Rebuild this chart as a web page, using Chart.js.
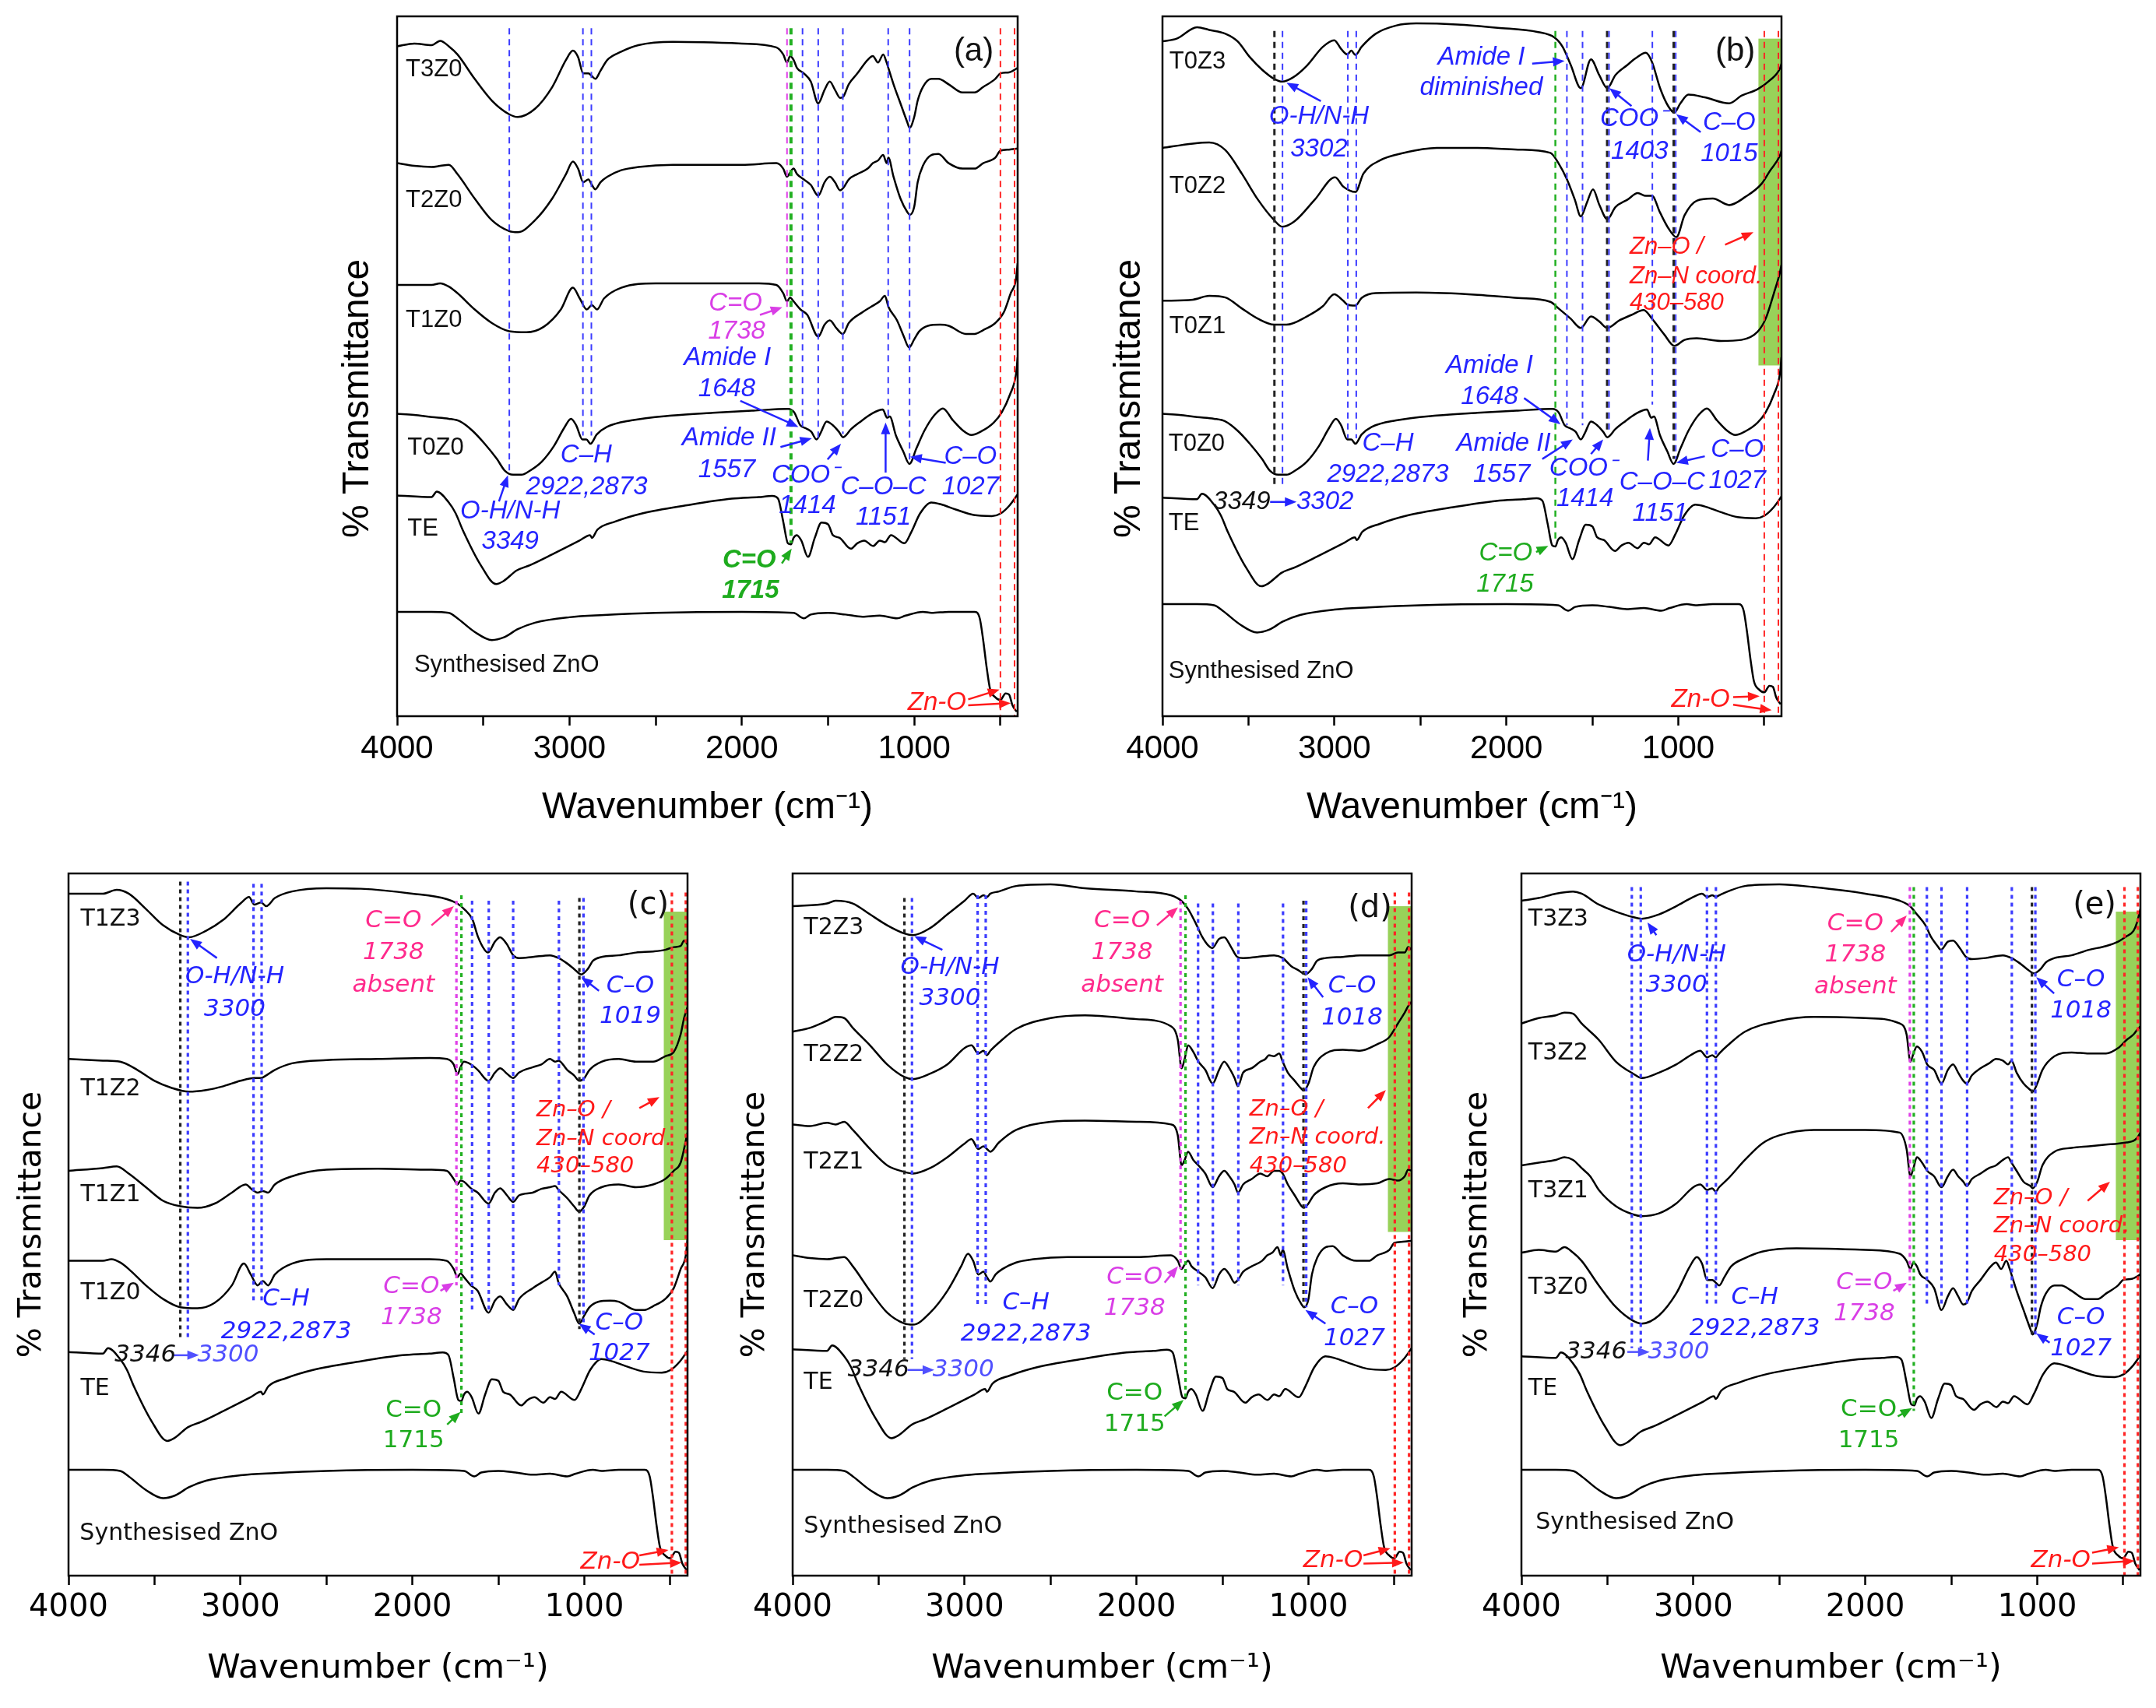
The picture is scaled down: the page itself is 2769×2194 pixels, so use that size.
<!DOCTYPE html>
<html>
<head>
<meta charset="utf-8">
<script src="https://cdn.jsdelivr.net/npm/chart.js@4.4.1/dist/chart.umd.min.js"></script>
<style>
  body { margin: 0; background: #fff; width: 2769px; height: 2194px; position: relative; overflow: hidden; }
  canvas { position: absolute; }
</style>
</head>
<body>
<canvas id="ca"></canvas>
<canvas id="cb"></canvas>
<canvas id="cc"></canvas>
<canvas id="cd"></canvas>
<canvas id="ce"></canvas>
<script>
// ---- spectra (x = wavenumber cm-1, t = stacked transmittance, arbitrary units) ----
const wnTE = [4000,3800,3770,3700,3660,3620,3515,3425,3385,3306,3228,3098,2942,2880,2870,2838,2734,2578,2318,2058,1902,1824,1790,1760,1733,1715,1700,1681,1655,1616,1577,1538,1500,1472,1433,1368,1330,1290,1238,1200,1170,1135,1057,1018,966,901,849,759,655,550,498,446,400];
const tTE  = [410,407,417,397,377,347,282,247,252,272,282,302,327,337,332,347,362,377,392,404,407,409,404,362,322,320,332,337,327,297,332,360,357,337,332,312,322,327,317,327,324,337,322,342,377,397,394,384,374,372,377,392,412];

const wnZnO = [4000,3800,3700,3650,3550,3450,3380,3300,3200,3000,2800,2500,2000,1700,1640,1600,1500,1400,1300,1200,1100,1050,950,900,800,650,620,600,580,560,530,500,470,450,430,405];
const tZnO  = [194,194,192,182,157,142,147,162,174,184,188,192,194,192,182,189,192,189,185,187,182,187,194,192,194,194,182,142,92,52,37,32,44,42,22,10];

const wnT0Z0 = [4000,3901,3799,3700,3634,3563,3492,3421,3374,3327,3279,3232,3161,3090,3031,2991,2961,2925,2902,2878,2842,2783,2642,2405,2169,1933,1732,1697,1661,1626,1597,1567,1543,1508,1472,1437,1413,1366,1319,1248,1182,1158,1142,1106,1064,1028,988,941,882,834,775,716,669,610,539,492,444,409,400];
const tT0Z0  = [556,554,550,547,542,525,501,473,451,444,444,451,468,497,530,547,535,509,509,501,518,532,544,553,558,562,565,559,535,529,523,509,521,542,535,523,513,528,540,556,564,549,551,516,487,464,492,525,554,566,544,525,517,524,540,559,592,630,660];

const wnT0Z1 = [4000,3823,3728,3634,3539,3445,3350,3279,3161,3067,3001,2949,2925,2878,2842,2760,2524,2169,1933,1744,1697,1626,1567,1508,1460,1413,1342,1272,1201,1153,1082,1023,964,893,752,633,539,492,444,409,400];
const tT0Z1  = [764,766,773,770,750,731,720,720,735,754,776,764,757,755,769,778,779,775,769,762,750,731,714,735,726,714,728,738,747,731,702,681,692,695,690,692,707,731,778,816,830];

const wnT0Z2 = [4000,3823,3728,3634,3539,3445,3350,3303,3232,3114,2996,2949,2913,2878,2831,2736,2594,2405,2169,1933,1744,1697,1649,1602,1567,1531,1496,1460,1413,1366,1295,1236,1189,1153,1106,1059,1011,964,893,799,704,610,516,469,409,400];
const tT0Z2  = [1045,1053,1055,1041,998,950,912,900,910,950,991,974,967,964,998,1022,1036,1045,1045,1042,1036,1017,988,950,919,945,969,941,914,936,950,962,957,957,926,898,881,921,948,952,940,955,979,1002,1031,1040];

const wnT0Z3 = [4000,3917,3799,3728,3634,3563,3492,3421,3350,3303,3244,3161,3067,3001,2961,2925,2902,2878,2842,2760,2642,2524,2287,2051,1815,1720,1673,1626,1567,1508,1460,1413,1366,1295,1248,1189,1153,1106,1059,1023,988,941,846,704,633,539,469,409,400];
const tT0Z3  = [1241,1246,1267,1262,1255,1241,1212,1189,1172,1167,1174,1196,1231,1243,1227,1217,1224,1216,1231,1255,1270,1274,1272,1266,1258,1248,1231,1198,1155,1208,1179,1155,1179,1198,1210,1220,1203,1155,1122,1110,1127,1143,1138,1127,1141,1153,1169,1191,1200];

const wnT1Z0 = [4000,3800,3750,3700,3650,3550,3450,3350,3250,3150,3050,2980,2940,2900,2870,2840,2800,2700,2500,2200,1900,1800,1760,1738,1720,1700,1660,1620,1557,1520,1490,1450,1414,1380,1300,1250,1200,1170,1150,1100,1060,1030,1000,970,920,850,800,700,650,600,530,480,440,410,400];
const tT1Z0  = [577,577,580,574,562,532,507,492,490,500,532,572,552,532,540,532,552,572,580,580,580,577,562,547,554,547,532,522,482,504,512,497,487,507,527,537,547,557,537,512,482,462,477,492,502,504,502,487,487,494,507,527,562,587,617];

const wnT1Z1 = [4000,3800,3720,3650,3550,3450,3350,3250,3150,3050,2970,2930,2900,2870,2840,2800,2700,2500,2200,1900,1800,1760,1738,1720,1700,1660,1620,1557,1520,1490,1450,1414,1380,1300,1250,1200,1170,1150,1100,1060,1030,1000,970,900,800,700,600,530,480,440,400];
const tT1Z1  = [742,747,750,737,712,687,677,674,682,702,717,707,702,705,702,717,732,744,746,744,742,727,717,724,722,710,702,682,702,710,697,685,697,702,709,712,714,707,692,677,667,677,697,712,717,712,717,727,742,757,812];

const wnT1Z2 = [4000,3800,3700,3600,3500,3400,3300,3200,3100,3000,2920,2880,2850,2800,2700,2500,2200,1900,1800,1760,1738,1720,1700,1660,1620,1557,1520,1490,1450,1414,1380,1300,1250,1200,1170,1150,1100,1060,1030,1000,970,900,800,700,600,530,480,440,420,400];
const tT1Z2  = [947,944,942,927,907,894,887,890,897,907,912,912,917,927,939,945,947,949,947,937,919,932,942,937,927,907,922,930,920,912,922,932,937,947,942,944,927,917,907,912,927,942,947,942,942,952,960,992,1022,1042];

const wnT1Z3 = [4000,3800,3720,3650,3550,3450,3350,3300,3200,3100,3000,2950,2920,2880,2850,2800,2700,2500,2300,2000,1800,1740,1700,1650,1620,1580,1560,1520,1490,1450,1414,1380,1300,1200,1150,1100,1060,1019,980,950,900,800,700,600,530,480,440,420,400];
const tT1Z3  = [1250,1250,1257,1250,1222,1192,1174,1170,1182,1202,1232,1244,1230,1234,1227,1242,1254,1260,1259,1250,1240,1232,1222,1202,1172,1147,1142,1162,1170,1157,1137,1132,1134,1137,1132,1122,1112,1102,1112,1127,1134,1137,1142,1144,1147,1152,1154,1164,1157];

const wnT2Z0 = [4000,3900,3800,3750,3700,3650,3550,3450,3350,3300,3200,3100,3020,2980,2950,2920,2890,2870,2850,2820,2780,2700,2600,2400,2000,1800,1760,1738,1720,1700,1680,1640,1600,1557,1520,1490,1460,1430,1410,1380,1330,1270,1240,1210,1180,1160,1150,1120,1080,1040,1025,1000,980,950,900,860,800,720,650,600,530,500,450,400];
const tT2Z0  = [587,582,580,582,584,567,522,482,462,460,482,522,567,590,577,552,557,547,539,552,562,574,580,584,584,587,577,562,570,577,567,557,547,527,552,562,552,537,542,557,567,577,587,592,602,587,597,562,522,497,492,507,552,582,602,604,587,577,577,587,597,610,612,614];

const wnT2Z1 = [4000,3900,3800,3750,3700,3650,3550,3450,3350,3300,3200,3100,3000,2960,2920,2890,2870,2850,2800,2700,2500,2300,2000,1800,1760,1738,1720,1700,1670,1640,1600,1557,1520,1490,1460,1430,1410,1380,1330,1280,1240,1200,1170,1150,1120,1080,1040,1027,1000,970,900,800,700,600,530,480,440,420,400];
const tT2Z1  = [827,824,830,827,832,817,782,752,740,737,747,767,792,800,782,787,782,777,794,817,832,834,832,827,807,752,762,777,762,752,737,712,732,742,732,717,702,717,727,737,732,742,742,737,717,697,677,674,682,697,712,719,717,719,727,724,732,744,742];

const wnT2Z2 = [4000,3900,3800,3750,3700,3650,3550,3450,3350,3300,3200,3100,3000,2960,2920,2890,2870,2850,2800,2700,2500,2300,2000,1800,1760,1738,1720,1700,1670,1640,1600,1557,1520,1490,1460,1430,1410,1380,1330,1280,1250,1230,1200,1170,1150,1120,1080,1040,1027,1000,970,900,800,700,600,530,480,440,420,400];
const tT2Z2  = [997,1004,1017,1024,1022,1004,972,937,914,910,920,937,967,972,957,962,954,962,977,1002,1022,1027,1020,1007,982,930,947,972,960,942,927,902,927,942,930,912,897,922,930,942,947,954,952,957,942,922,907,892,889,902,932,957,964,962,974,987,1012,1032,1044,1052];

const wnT2Z3 = [4000,3800,3750,3650,3550,3450,3350,3300,3200,3100,3000,2950,2920,2890,2870,2850,2800,2700,2500,2300,2000,1800,1740,1700,1650,1620,1580,1560,1520,1490,1450,1414,1380,1300,1200,1150,1100,1060,1018,980,950,900,800,700,600,530,480,440,420,400];
const tT2Z3  = [1227,1232,1237,1232,1212,1192,1177,1174,1187,1212,1237,1250,1242,1247,1244,1250,1254,1264,1267,1260,1254,1247,1237,1222,1192,1172,1154,1150,1167,1170,1152,1134,1132,1134,1137,1132,1117,1110,1102,1112,1127,1132,1134,1137,1137,1137,1142,1142,1152,1147];

const wnT3Z0 = [4000,3900,3800,3750,3700,3650,3550,3450,3350,3300,3200,3100,3020,2980,2950,2920,2890,2870,2850,2820,2780,2700,2600,2400,2000,1800,1760,1738,1720,1700,1680,1640,1600,1557,1520,1490,1460,1430,1410,1380,1330,1270,1240,1210,1180,1160,1150,1120,1080,1040,1027,1000,980,950,900,860,800,720,650,600,530,500,450,400];
const tT3Z0  = [592,597,594,602,592,577,532,492,467,462,477,517,567,584,572,542,542,537,532,547,567,582,594,600,597,590,577,562,574,567,552,542,527,487,512,527,512,497,500,522,542,567,574,562,577,562,552,522,487,452,442,462,492,517,532,532,522,507,507,517,532,542,544,552];

const wnT3Z1 = [4000,3900,3800,3750,3700,3650,3600,3550,3450,3350,3300,3200,3100,3000,2960,2920,2890,2870,2850,2800,2700,2600,2500,2300,2000,1800,1760,1738,1720,1700,1670,1640,1600,1557,1520,1490,1460,1430,1410,1380,1330,1280,1240,1200,1170,1150,1120,1080,1040,1027,1000,970,900,800,700,600,530,480,440,420,400];
const tT3Z1  = [752,757,762,767,762,747,732,707,677,662,659,664,682,712,717,707,710,704,712,727,762,792,807,817,817,812,782,732,747,767,757,742,732,712,732,744,732,722,714,727,737,747,752,762,767,757,742,722,714,710,722,752,777,784,787,790,792,794,797,802,812];

const wnT3Z2 = [4000,3900,3800,3750,3700,3650,3550,3450,3350,3300,3200,3100,3000,2960,2920,2890,2870,2850,2800,2700,2500,2300,2000,1800,1760,1738,1720,1700,1670,1640,1600,1557,1520,1490,1460,1430,1410,1380,1330,1280,1240,1200,1170,1150,1120,1080,1040,1027,1000,970,900,800,700,600,530,480,440,420,400];
const tT3Z2  = [1012,1022,1027,1032,1030,1012,982,942,920,912,922,937,957,962,950,954,950,957,972,997,1017,1024,1022,1012,992,942,957,970,960,937,927,902,927,937,922,907,902,917,930,939,947,944,937,944,922,902,890,887,902,927,952,959,957,957,967,982,992,1000,1007];

const wnT3Z3 = [4000,3900,3800,3700,3650,3550,3450,3350,3300,3200,3100,3000,2950,2920,2890,2870,2850,2800,2700,2500,2300,2000,1800,1740,1700,1650,1620,1580,1560,1520,1490,1450,1414,1380,1300,1200,1150,1100,1060,1018,980,950,900,800,700,600,530,480,440,420,400];
const tT3Z3  = [1237,1242,1250,1254,1250,1230,1217,1207,1204,1212,1227,1244,1250,1244,1247,1244,1247,1254,1264,1267,1262,1250,1237,1227,1212,1192,1172,1154,1147,1162,1164,1150,1134,1130,1132,1137,1132,1122,1112,1104,1112,1124,1132,1137,1147,1154,1162,1172,1182,1197,1222];

// x axis ticks (labels only on thousands)
const xTicks = [4000, 3500, 3000, 2500, 2000, 1500, 1000, 500];

// ---- styles ----
const LS = '"Liberation Sans", Arial, sans-serif';
const DV = '"DejaVu Sans", Verdana, sans-serif';
const COL = { B: '#2424ff', B2: '#5050ff', K: '#111111', M: '#d93ee6', P: '#ff2a8c', G: '#1eab1e', R: '#ff1a1a' };
const LINECOL = { b: '#3c3cff', k: '#222222', m: '#e040e8', g: '#22b022', r: '#ff2626' };
const BAND = 'rgba(146,208,80,0.95)';

const fontAB = { fam: LS, tick: 42, xt: 48, yt: 48, tr: 31, an: 33, let: 42, tickPad: 5, titlePadB: 13 };
const fontCE = { fam: DV, tick: 40, xt: 43, yt: 41, tr: 30, an: 31, let: 40, tickPad: 6, titlePadB: 24 };

// ---- panels ----
const panels = [
  {
    id: 'ca', box: [400, 0, 930, 1080], plot: [510, 1307, 21, 920], f: fontAB, yDx: 50, yFy: 0.546,
    dash: [8, 6], lw: 2, gw: 4,
    traces: [[wnT3Z0, tT3Z0, 640], [wnT2Z0, tT2Z0, 430], [wnT1Z0, tT1Z0, 216], [wnT0Z0, tT0Z0, 0], [wnTE, tTE, -4], [wnZnO, tZnO, -2]],
    lines: [[3349,1265,448,'b'],[2922,1265,516,'b'],[2873,1265,516,'b'],[1738,1265,730,'m'],[1715,1265,318,'g'],
            [1648,1265,530,'b'],[1557,1265,511,'b'],[1414,1265,519,'b'],[1151,1265,551,'b'],[1027,1265,472,'b'],
            [500,1265,0,'r'],[418,1265,0,'r']],
    texts: [['T3Z0',3950,1189,'K','n'],['T2Z0',3950,948,'K','n'],['T1Z0',3950,728,'K','n'],['T0Z0',3940,493,'K','n'],
            ['TE',3940,345,'K','n'],['Synthesised ZnO',3901,94,'K','n'],['(a)',655,1222,'K','L'],
            ['C=O',2037,759,'M','i'],['1738',2030,707,'M','i'],
            ['Amide I',2084,659,'B','i'],['1648',2087,601,'B','i'],
            ['Amide II',2074,511,'B','i'],['1557',2087,453,'B','i'],
            ['C\u2013H',2903,480,'B','i'],['2922,2873',2900,421,'B','i'],
            ['O-H/N-H',3344,377,'B','i'],['3349',3344,321,'B','i'],
            ['COO\u207B',1633,443,'B','i'],['1414',1620,387,'B','i'],
            ['C\u2013O\u2013C',1179,421,'B','i'],['1151',1179,366,'B','i'],
            ['C\u2013O',674,477,'B','i'],['1027',674,421,'B','i'],
            ['C=O',1957,287,'G','bi'],['1715',1950,231,'G','bi'],
            ['Zn-O',868,25,'R','i']],
    arrows: [[1895,738,1765,752,'M'],[2009,580,1672,532,'B'],[1776,495,1594,511,'B'],[3409,395,3357,443,'B'],
             [1503,472,1425,501,'B'],[1166,448,1166,540,'B'],[817,466,1024,477,'B'],[1768,281,1711,308,'G'],
             [687,31,505,49,'R'],[687,20,440,24,'R']]
  },
  {
    id: 'cb', box: [1380, 0, 930, 1080], plot: [1493, 2288, 21, 920], f: fontAB, yDx: 42, yFy: 0.546,
    dash: [8, 6], lw: 2, gw: 2.5, band: [534, 400, 645, 1246],
    traces: [[wnT0Z3, tT0Z3, 0], [wnT0Z2, tT0Z2, 0], [wnT0Z1, tT0Z1, 0], [wnT0Z0, tT0Z0, 0], [wnTE, tTE, -8], [wnZnO, tZnO, 12]],
    lines: [[3349,1260,425,'k'],[3302,1260,425,'b'],[2922,1260,511,'b'],[2873,1260,511,'b'],[1715,1260,321,'g'],
            [1648,1260,535,'b'],[1557,1260,535,'b'],[1403,1260,520,'b'],[1414,1260,520,'k'],[1151,1260,573,'b'],
            [1015,1260,473,'b'],[1027,1260,473,'k'],[500,1260,0,'r'],[418,1260,0,'r']],
    texts: [['T0Z3',3960,1203,'K','n'],['T0Z2',3960,974,'K','n'],['T0Z1',3960,716,'K','n'],['T0Z0',3965,501,'K','n'],
            ['TE',3965,354,'K','n'],['Synthesised ZnO',3965,83,'K','n'],['(b)',669,1222,'K','L'],
            ['O-H/N-H',3090,1103,'B','i'],['3302',3090,1043,'B','i'],
            ['Amide I',2146,1212,'B','i'],['diminished',2146,1155,'B','i'],
            ['COO\u207B',1260,1098,'B','i'],['1403',1225,1038,'B','i'],
            ['C\u2013O',704,1091,'B','i'],['1015',704,1034,'B','i'],
            ['Zn\u2013O /',1283,862,'R','il'],['Zn\u2013N coord.',1283,809,'R','il'],['430\u2013580',1283,759,'R','il'],
            ['Amide I',2098,645,'B','i'],['1648',2098,587,'B','i'],
            ['C\u2013H',2689,501,'B','i'],['2922,2873',2689,444,'B','i'],
            ['Amide II',2016,501,'B','i'],['1557',2027,444,'B','i'],
            ['COO\u207B',1555,456,'B','i'],['1414',1543,399,'B','i'],
            ['C\u2013O\u2013C',1094,430,'B','i'],['1151',1106,373,'B','i'],
            ['C\u2013O',657,490,'B','i'],['1027',657,433,'B','i'],
            ['3349',3539,394,'K','i'],['3302',3055,394,'B','i'],
            ['C=O',2004,299,'G','i'],['1715',2008,242,'G','i'],
            ['Zn-O',870,30,'R','i']],
    arrows: [[3079,1131,3279,1165,'B'],[1850,1200,1661,1205,'B'],[1272,1122,1401,1155,'B'],[870,1074,1012,1107,'B'],
             [728,867,563,890,'R'],[1897,585,1685,537,'B'],[1791,473,1614,509,'B'],[1508,482,1437,509,'B'],
             [1177,470,1165,530,'B'],[846,478,1012,466,'B'],[3374,394,3220,394,'B'],[1827,302,1756,313,'G'],
             [681,35,527,37,'R'],[681,21,457,11,'R']]
  },
  {
    id: 'cc', box: [0, 1100, 910, 1094], plot: [88, 883, 1122, 2024], f: fontCE, yDx: 47, yFy: 0.5,
    dash: [5, 5], lw: 3.2, gw: 3.2, band: [538, 400, 615, 1217],
    traces: [[wnT1Z3, tT1Z3, 0], [wnT1Z2, tT1Z2, 0], [wnT1Z1, tT1Z1, 0], [wnT1Z0, tT1Z0, 0], [wnTE, tTE, 0], [wnZnO, tZnO, 0]],
    lines: [[3350,1272,432,'k'],[3306,1272,432,'b'],[2924,1268,502,'b'],[2877,1268,502,'b'],[1744,1237,532,'m'],
            [1715,1247,297,'g'],[1653,1237,487,'b'],[1556,1237,487,'b'],[1414,1237,487,'b'],[1148,1237,532,'b'],
            [1029,1242,452,'k'],[1005,1242,452,'b'],[491,1252,0,'r'],[410,1252,0,'r']],
    texts: [['T1Z3',3930,1202,'K','n'],['T1Z2',3930,892,'K','n'],['T1Z1',3930,697,'K','n'],['T1Z0',3930,517,'K','n'],
            ['TE',3930,342,'K','n'],['Synthesised ZnO',3935,77,'K','n'],['(c)',629,1227,'K','L'],
            ['O-H/N-H',3033,1097,'B','i'],['3300',3033,1037,'B','i'],
            ['C=O',2110,1200,'P','i'],['1738',2110,1142,'P','i'],['absent',2110,1082,'P','i'],
            ['C\u2013O',733,1080,'B','i'],['1019',733,1024,'B','i'],
            ['Zn\u2013O /',1278,852,'R','il'],['Zn\u2013N coord.',1278,800,'R','il'],['430\u2013580',1278,750,'R','il'],
            ['C\u2013H',2734,507,'B','i'],['2922,2873',2734,447,'B','i'],
            ['C=O',2006,529,'M','i'],['1738',2006,472,'M','i'],
            ['C\u2013O',797,462,'B','i'],['1027',797,407,'B','i'],
            ['3346',3553,404,'K','i'],['3300',3072,404,'B2','i'],
            ['C=O',1993,302,'G','u'],['1715',1993,247,'G','u'],
            ['Zn-O',849,24,'R','i']],
    arrows: [[3137,1132,3293,1167,'B'],[1889,1192,1759,1227,'P'],[915,1072,1018,1097,'B'],[680,857,563,877,'R'],
             [1837,522,1759,537,'M'],[940,442,1031,462,'B'],[3397,404,3241,404,'B2'],[1798,277,1720,300,'G'],
             [680,37,511,47,'R'],[680,20,434,24,'R']]
  },
  {
    id: 'cd', box: [930, 1100, 910, 1094], plot: [1018, 1813, 1122, 2024], f: fontCE, yDx: 48, yFy: 0.5,
    dash: [5, 5], lw: 3.2, gw: 3.2, band: [538, 400, 630, 1227],
    traces: [[wnT2Z3, tT2Z3, 0], [wnT2Z2, tT2Z2, 0], [wnT2Z1, tT2Z1, 0], [wnT2Z0, tT2Z0, 0], [wnTE, tTE, 5], [wnZnO, tZnO, 0]],
    lines: [[3350,1242,397,'k'],[3306,1242,397,'b'],[2924,1247,497,'b'],[2877,1247,497,'b'],[1744,1237,562,'m'],
            [1715,1247,327,'g'],[1642,1232,532,'b'],[1556,1232,532,'b'],[1408,1232,532,'b'],[1148,1232,532,'b'],
            [1029,1237,492,'k'],[1013,1237,492,'b'],[498,1252,0,'r'],[415,1252,0,'r']],
    texts: [['T2Z3',3935,1187,'K','n'],['T2Z2',3935,954,'K','n'],['T2Z1',3935,757,'K','n'],['T2Z0',3935,504,'K','n'],
            ['TE',3935,354,'K','n'],['Synthesised ZnO',3935,89,'K','n'],['(d)',642,1222,'K','L'],
            ['O-H/N-H',3085,1114,'B','i'],['3300',3085,1057,'B','i'],
            ['C=O',2084,1200,'P','i'],['1738',2084,1142,'P','i'],['absent',2084,1082,'P','i'],
            ['C\u2013O',746,1080,'B','i'],['1018',746,1022,'B','i'],
            ['Zn\u2013O /',1343,854,'R','il'],['Zn\u2013N coord.',1343,802,'R','il'],['430\u2013580',1343,750,'R','il'],
            ['C\u2013H',2643,500,'B','i'],['2922,2873',2643,442,'B','i'],
            ['C=O',2011,547,'M','i'],['1738',2011,490,'M','i'],
            ['C\u2013O',733,492,'B','i'],['1027',733,434,'B','i'],
            ['3346',3501,377,'K','i'],['3300',3007,377,'B2','i'],
            ['C=O',2011,334,'G','u'],['1715',2011,277,'G','u'],
            ['Zn-O',857,27,'R','i']],
    arrows: [[3129,1147,3293,1172,'B'],[1881,1192,1759,1225,'P'],[915,1060,1005,1097,'B'],[654,857,550,890,'R'],
             [1837,537,1759,567,'M'],[901,462,1018,487,'B'],[3332,377,3176,377,'B2'],[1837,292,1726,322,'G'],
             [680,37,524,50,'R'],[680,22,446,24,'R']]
  },
  {
    id: 'ce', box: [1866, 1100, 903, 1094], plot: [1954, 2749, 1122, 2024], f: fontCE, yDx: 56, yFy: 0.5,
    dash: [5, 5], lw: 3.2, gw: 3.2, band: [543, 400, 615, 1217],
    traces: [[wnT3Z3, tT3Z3, 0], [wnT3Z2, tT3Z2, 0], [wnT3Z1, tT3Z1, 0], [wnT3Z0, tT3Z0, 0], [wnTE, tTE, -8], [wnZnO, tZnO, 0]],
    lines: [[3358,1262,417,'b'],[3306,1262,417,'b'],[2921,1262,492,'b'],[2869,1262,492,'b'],[1741,1262,532,'m'],
            [1718,1262,302,'g'],[1642,1262,492,'b'],[1557,1262,492,'b'],[1408,1262,492,'b'],[1148,1262,522,'b'],
            [1031,1262,442,'k'],[1011,1262,442,'b'],[493,1262,0,'r'],[415,1262,0,'r']],
    texts: [['T3Z3',3960,1202,'K','n'],['T3Z2',3960,957,'K','n'],['T3Z1',3960,704,'K','n'],['T3Z0',3960,527,'K','n'],
            ['TE',3960,342,'K','n'],['Synthesised ZnO',3917,97,'K','n'],['(e)',667,1227,'K','L'],
            ['O-H/N-H',3098,1137,'B','i'],['3300',3098,1082,'B','i'],
            ['C=O',2058,1194,'P','i'],['1738',2058,1137,'P','i'],['absent',2058,1079,'P','i'],
            ['C\u2013O',746,1092,'B','i'],['1018',746,1034,'B','i'],
            ['Zn\u2013O /',1252,692,'R','il'],['Zn\u2013N coord.',1252,640,'R','il'],['430\u2013580',1252,587,'R','il'],
            ['C\u2013H',2643,510,'B','i'],['2922,2873',2643,452,'B','i'],
            ['C=O',2006,537,'M','i'],['1738',2006,480,'M','i'],
            ['C\u2013O',746,472,'B','i'],['1027',746,415,'B','i'],
            ['3346',3566,410,'K','i'],['3300',3085,410,'B2','i'],
            ['C=O',1980,304,'G','u'],['1715',1980,247,'G','u'],
            ['Zn-O',863,27,'R','i']],
    arrows: [[3215,1174,3267,1197,'B'],[1850,1180,1759,1210,'P'],[902,1067,1006,1097,'B'],[707,687,577,722,'R'],
             [1837,522,1759,537,'M'],[928,427,1006,444,'B'],[3384,410,3254,410,'B2'],[1811,292,1728,307,'G'],
             [681,42,525,52,'R'],[681,22,434,27,'R']]
  }
];

// ---- drawing helpers ----
function arrowTo(ctx, x1, y1, x2, y2, color) {
  const ang = Math.atan2(y2 - y1, x2 - x1), hl = 15, hw = 6;
  ctx.strokeStyle = color; ctx.fillStyle = color; ctx.lineWidth = 2.5;
  ctx.beginPath();
  ctx.moveTo(x1, y1);
  ctx.lineTo(x2 - Math.cos(ang) * hl * 0.8, y2 - Math.sin(ang) * hl * 0.8);
  ctx.stroke();
  ctx.beginPath();
  ctx.moveTo(x2, y2);
  ctx.lineTo(x2 - hl * Math.cos(ang) + hw * Math.sin(ang), y2 - hl * Math.sin(ang) - hw * Math.cos(ang));
  ctx.lineTo(x2 - hl * Math.cos(ang) - hw * Math.sin(ang), y2 - hl * Math.sin(ang) + hw * Math.cos(ang));
  ctx.closePath();
  ctx.fill();
}

function decor(p) {
  const f = p.f;
  return {
    id: 'decor',
    beforeDatasetsDraw(chart) {
      if (!p.band) return;
      const { ctx, scales: { x, y } } = chart;
      const x1 = x.getPixelForValue(p.band[0]), x2 = x.getPixelForValue(p.band[1]);
      const y1 = y.getPixelForValue(p.band[2]), y2 = y.getPixelForValue(p.band[3]);
      ctx.save();
      ctx.fillStyle = BAND;
      ctx.fillRect(Math.min(x1, x2), Math.min(y1, y2), Math.abs(x2 - x1), Math.abs(y2 - y1));
      ctx.restore();
    },
    afterDraw(chart) {
      const { ctx, chartArea: a, scales: { x, y } } = chart;
      ctx.save();
      ctx.strokeStyle = '#000';
      ctx.lineWidth = 2.5;
      ctx.strokeRect(a.left, a.top, a.right - a.left, a.bottom - a.top);

      p.arrows.forEach(([w1, v1, w2, v2, c]) => {
        arrowTo(ctx, x.getPixelForValue(w1), y.getPixelForValue(v1), x.getPixelForValue(w2), y.getPixelForValue(v2), COL[c]);
      });

      ctx.textBaseline = 'middle';
      p.texts.forEach(([t, w, v, c, s]) => {
        let font, align = 'center';
        if (s === 'n') { font = `${f.tr}px ${f.fam}`; align = 'left'; }
        else if (s === 'L') font = `${f.let}px ${f.fam}`;
        else if (s === 'u') font = `${f.an}px ${f.fam}`;
        else if (s === 'bi') font = `italic bold ${f.an}px ${f.fam}`;
        else if (s === 'il') { font = `italic ${f.an - 2}px ${f.fam}`; align = 'left'; }
        else font = `italic ${f.an}px ${f.fam}`;
        ctx.font = font;
        ctx.textAlign = align;
        ctx.fillStyle = COL[c];
        ctx.fillText(t, x.getPixelForValue(w), y.getPixelForValue(v));
      });

      ctx.translate(a.left - p.yDx, a.top + (a.bottom - a.top) * p.yFy);
      ctx.rotate(-Math.PI / 2);
      ctx.font = `${f.yt}px ${f.fam}`;
      ctx.textAlign = 'center';
      ctx.fillStyle = '#000';
      ctx.fillText('% Transmittance', 0, 0);
      ctx.restore();
    }
  };
}

// ---- build charts ----
panels.forEach(p => {
  const [bl, bt, bw, bh] = p.box;
  const [pl, pr, pt, pb] = p.plot;
  const cv = document.getElementById(p.id);
  cv.width = bw; cv.height = bh;
  cv.style.left = bl + 'px'; cv.style.top = bt + 'px';
  cv.style.width = bw + 'px'; cv.style.height = bh + 'px';

  const datasets = [];
  p.lines.forEach(([w, top, bot, k]) => {
    datasets.push({
      data: [{ x: w, y: top }, { x: w, y: bot }],
      borderColor: LINECOL[k],
      borderWidth: k === 'g' ? p.gw : (k === 'k' && p.f === fontAB ? 3 : p.lw),
      borderDash: p.dash,
      pointRadius: 0
    });
  });
  p.traces.forEach(([wn, t, off]) => {
    const n = Math.min(wn.length, t.length);
    const pts = [];
    for (let i = 0; i < n; i++) pts.push({ x: wn[i], y: t[i] + off });
    datasets.push({ data: pts, borderColor: '#000', borderWidth: 2.5, pointRadius: 0, tension: 0.25, cubicInterpolationMode: 'monotone' });
  });

  const yw = pl - bl, xh = bt + bh - pb;
  new Chart(cv, {
    type: 'line',
    data: { datasets },
    options: {
      responsive: false,
      animation: false,
      devicePixelRatio: 1,
      layout: { padding: { top: pt - bt, right: bl + bw - pr, left: 0, bottom: 0 }, autoPadding: false },
      plugins: { legend: { display: false }, tooltip: { enabled: false } },
      scales: {
        x: {
          type: 'linear', reverse: true, min: 400, max: 4000,
          afterBuildTicks: s => { s.ticks = xTicks.map(v => ({ value: v })); },
          afterFit: s => { s.height = xh; },
          ticks: {
            autoSkip: false, maxRotation: 0, padding: p.f.tickPad, color: '#000',
            font: { family: p.f.fam, size: p.f.tick },
            callback: v => (v % 1000 === 0 ? String(v) : '')
          },
          grid: { display: true, drawOnChartArea: false, drawTicks: true, tickLength: 12, tickWidth: 2.5, tickColor: '#000' },
          border: { display: false },
          title: {
            display: true, text: 'Wavenumber (cm\u207B\u00B9)', color: '#000',
            font: { family: p.f.fam, size: p.f.xt }, padding: { top: 0, bottom: p.f.titlePadB }
          }
        },
        y: {
          type: 'linear', min: 0, max: 1287,
          afterFit: s => { s.width = yw; },
          ticks: { display: false },
          grid: { display: false },
          border: { display: false }
        }
      }
    },
    plugins: [decor(p)]
  });
});
</script>
</body>
</html>
